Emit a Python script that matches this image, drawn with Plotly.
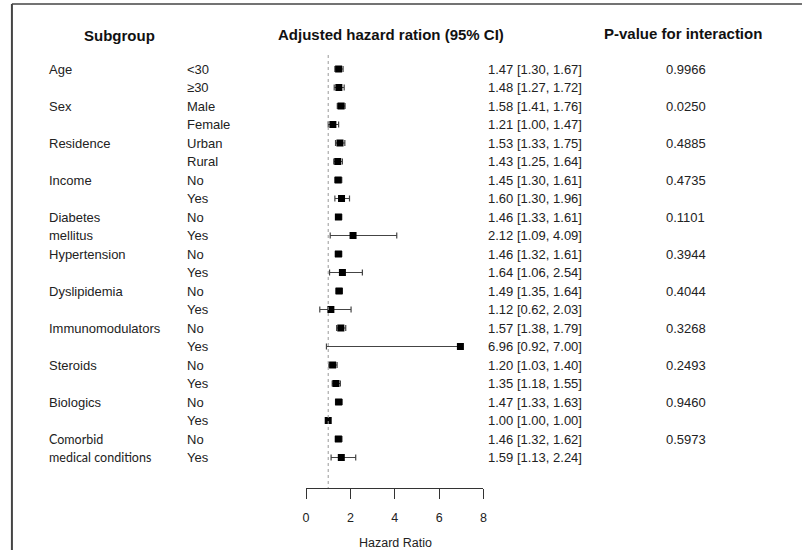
import plotly.graph_objects as go

# ---- data ----
group_lines = [["Age"], ["Sex"], ["Residence"], ["Income"], ["Diabetes", "mellitus"],
               ["Hypertension"], ["Dyslipidemia"], ["Immunomodulators"], ["Steroids"],
               ["Biologics"], ["Comorbid", "medical conditions"]]
levels = [["<30", "≥30"], ["Male", "Female"], ["Urban", "Rural"], ["No", "Yes"], ["No", "Yes"],
          ["No", "Yes"], ["No", "Yes"], ["No", "Yes"], ["No", "Yes"], ["No", "Yes"], ["No", "Yes"]]
hr = [1.47, 1.48, 1.58, 1.21, 1.53, 1.43, 1.45, 1.60, 1.46, 2.12, 1.46, 1.64, 1.49, 1.12,
      1.57, 6.96, 1.20, 1.35, 1.47, 1.00, 1.46, 1.59]
lo = [1.30, 1.27, 1.41, 1.00, 1.33, 1.25, 1.30, 1.30, 1.33, 1.09, 1.32, 1.06, 1.35, 0.62,
      1.38, 0.92, 1.03, 1.18, 1.33, 1.00, 1.32, 1.13]
hi = [1.67, 1.72, 1.76, 1.47, 1.75, 1.64, 1.61, 1.96, 1.61, 4.09, 1.61, 2.54, 1.64, 2.03,
      1.79, 7.00, 1.40, 1.55, 1.63, 1.00, 1.62, 2.24]
pvals = ["0.9966", "0.0250", "0.4885", "0.4735", "0.1101", "0.3944", "0.4044", "0.3268",
         "0.2493", "0.9460", "0.5973"]
x_ticks = [0, 2, 4, 6, 8]

W, H = 803, 550
ROW0, ROWH = 69.0, 18.5


def px(x):
    return x / W


def py(y):
    return 1 - y / H


rows = list(range(len(hr)))
TXT = "#222222"
FONT = "Liberation Sans, Arial, sans-serif"

fig = go.Figure()
fig.add_trace(go.Scatter(
    x=hr, y=rows, mode="markers",
    marker=dict(symbol="square", size=7, color="black"),
    error_x=dict(type="data", symmetric=False,
                 array=[h - m for h, m in zip(hi, hr)],
                 arrayminus=[m - l for m, l in zip(hr, lo)],
                 color="#444444", thickness=1.2, width=3),
    showlegend=False, hoverinfo="skip"))

ann = []
# headers
ann.append(dict(text="<b>Subgroup</b>", x=px(118), y=py(36)))
ann.append(dict(text="<b>Adjusted hazard ration (95% CI)</b>", x=px(391), y=py(35)))
ann.append(dict(text="<b>P-value for interaction</b>", x=px(686), y=py(34)))
for a in ann:
    a.update(xref="paper", yref="paper", showarrow=False, xanchor="center", yanchor="middle",
             font=dict(family=FONT, size=15, color="#111111"))

r = 0
for gi, (gl, lv) in enumerate(zip(group_lines, levels)):
    for k, line in enumerate(gl):
        fam, fs = FONT, 13
        if gi == len(group_lines) - 1:
            fam, fs = "Lato, sans-serif", 12.5
        ann.append(dict(text=line, x=px(44), y=r + k, xref="paper", yref="y", showarrow=False,
                        xanchor="left", yanchor="middle",
                        font=dict(family=fam, size=fs, color=TXT)))
    ann.append(dict(text=pvals[gi], x=px(689), y=r, xref="paper", yref="y", showarrow=False,
                    xanchor="center", yanchor="middle", font=dict(family=FONT, size=13, color=TXT)))
    for k, l in enumerate(lv):
        ann.append(dict(text=l, x=px(184), y=r + k, xref="paper", yref="y", showarrow=False,
                        xanchor="left", yanchor="middle", font=dict(family=FONT, size=13, color=TXT)))
    r += len(lv)

for i in rows:
    ann.append(dict(text=f"{hr[i]:.2f} [{lo[i]:.2f}, {hi[i]:.2f}]", x=px(586), y=i,
                    xref="paper", yref="y", showarrow=False, xanchor="right", yanchor="middle",
                    font=dict(family=FONT, size=13, color=TXT)))

ann.append(dict(text="Hazard Ratio", x=px(396), y=py(543), xref="paper", yref="paper",
                showarrow=False, xanchor="center", yanchor="middle",
                font=dict(family=FONT, size=12.5, color=TXT)))

y_axis_pix = 488
fig.update_layout(
    width=W, height=H, margin=dict(l=0, r=0, t=0, b=0),
    paper_bgcolor="white", plot_bgcolor="white",
    annotations=ann,
    xaxis=dict(range=[0, 8], domain=[px(305.7), px(484.7)], anchor="free", position=py(y_axis_pix),
               showgrid=False, zeroline=False, showline=True, linecolor="#333333", linewidth=1,
               ticks="outside", ticklen=10, tickwidth=1, tickcolor="#333333",
               tickvals=x_ticks, ticktext=[str(t) for t in x_ticks],
               tickfont=dict(family=FONT, size=12.5, color=TXT), ticklabelstandoff=8),
    yaxis=dict(range=[(H - ROW0) / ROWH, -ROW0 / ROWH], domain=[0, 1], visible=False,
               showgrid=False, zeroline=False),
    shapes=[
        dict(type="line", xref="x", yref="y", x0=1, x1=1, y0=(55 - ROW0) / ROWH,
             y1=(y_axis_pix - ROW0) / ROWH, line=dict(color="#999999", width=1, dash="dot")),
        dict(type="line", xref="paper", yref="paper", x0=px(9), x1=px(9), y0=py(552), y1=py(4),
             line=dict(color="#444444", width=2)),
        dict(type="line", xref="paper", yref="paper", x0=px(9), x1=px(806), y0=py(4), y1=py(4),
             line=dict(color="#444444", width=1.5)),
    ],
)

fig.write_html("out.html", config={"displayModeBar": False},
               post_script="document.body.style.margin='0';document.body.style.overflow='hidden';")
